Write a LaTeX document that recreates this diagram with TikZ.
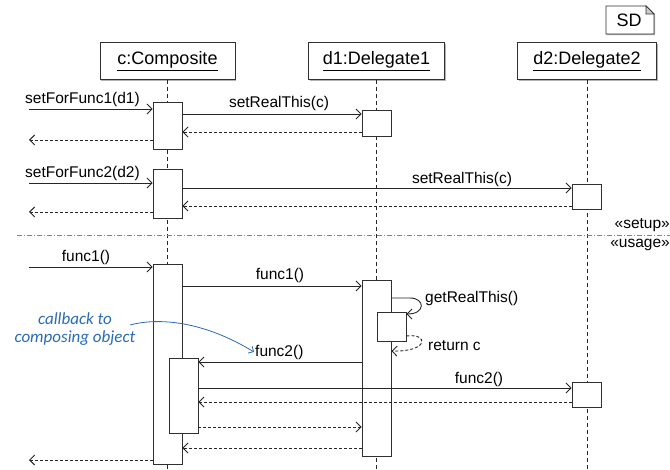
\documentclass[tikz,border=0pt]{standalone}
\usepackage{fontspec}
\setmainfont{Liberation Sans}
\newfontfamily\notefont{Carlito}
\usetikzlibrary{arrows.meta,shadows}
\definecolor{linegray}{HTML}{303030}
\definecolor{noteblue}{HTML}{2A6BB5}
\definecolor{sepblue}{HTML}{4A90D0}
\tikzset{
  head/.style={draw=linegray, fill=white, line width=0.9bp, minimum height=37bp,
    inner sep=0, font=\fontsize{18bp}{20bp}\selectfont,
    drop shadow={shadow xshift=1.2bp, shadow yshift=-1.2bp, fill=black!30, opacity=1}},
  act/.style={draw=linegray, fill=white, line width=0.9bp, minimum width=29bp, inner sep=0},
  lifeline/.style={draw=black!85, line width=0.8bp, dash pattern=on 4bp off 3bp},
  msg/.style={draw=black!85, line width=0.9bp, -{Straight Barb[length=5bp,width=10bp]}},
  ret/.style={msg, dash pattern=on 3bp off 2bp},
  lbl/.style={font=\fontsize{15.5bp}{17bp}\selectfont, inner sep=0},
  sep/.style={draw=sepblue, line width=0.9bp, dash pattern=on 5bp off 2bp on 1bp off 2bp},
  note/.style={font=\notefont\itshape\fontsize{17bp}{18bp}\selectfont, text=noteblue,
    align=center, inner sep=0},
  noteline/.style={draw=noteblue, line width=0.8bp, -{Straight Barb[length=4bp,width=8bp]}},
}
\begin{document}
\begin{tikzpicture}[x=1bp, y=-1bp]
\useasboundingbox (0,0) rectangle (670,470);

% frame tag with folded corner
\fill[black!30] (607.2,35.2) -- (655.2,35.2) -- (655.2,15.2) -- (654,14) -- (654,34) -- (606,34) -- cycle;
\draw[linegray, line width=0.9bp, fill=white] (606,6) -- (646,6) -- (654,14) -- (654,34) -- (606,34) -- cycle;
\draw[linegray, line width=0.7bp, fill=black!20] (646,6) -- (646,14) -- (654,14) -- cycle;
\node[font=\fontsize{18bp}{20bp}\selectfont, inner sep=0] (sd) at (629,20) {SD};

% lifeline heads
\node[head, minimum width=135bp] (c)  at (167.5,61) {\underline{c:Composite}};
\node[head, minimum width=136bp] (d1) at (376.5,61) {\underline{d1:Delegate1}};
\node[head, minimum width=139bp] (d2) at (587,61)   {\underline{d2:Delegate2}};

% lifelines
\coordinate (cEnd)  at (c.south  |- 0,470);
\coordinate (d1End) at (d1.south |- 0,470);
\coordinate (d2End) at (d2.south |- 0,470);
\draw[lifeline] (c.south) -- (cEnd);
\draw[lifeline] (d1.south) -- (d1End);
\draw[lifeline] (d2.south) -- (d2End);

% phase separator
\coordinate (sepL) at (17,235);
\coordinate (sepR) at (670,235);
\draw[sep] (sepL) -- (sepR);
\node[lbl, anchor=base east] (setup) at (670,229) {«setup»};
\node[lbl, anchor=base east] (usage) at (670,248) {«usage»};

% activations
\node[act, minimum height=47bp] (cA1) at (167.5,125.5) {};
\node[act, minimum height=26bp] (dA1) at (376.5,123) {};
\node[act, minimum height=49bp] (cA2) at (167.5,193.5) {};
\node[act, minimum height=25bp] (eA1) at (586.5,196.5) {};
\node[act, minimum height=200bp] (cA3) at (167.5,364) {};
\node[act, minimum height=176bp] (dA2) at (376.5,368) {};
\node[act, minimum height=29bp] (dA3) at (391.5,326.5) {};
\node[act, minimum height=75bp] (cA4) at (183.5,395.5) {};
\node[act, minimum height=25bp] (eA2) at (586.5,394.5) {};

% setup: first delegate
\coordinate (in1) at (29,109);
\coordinate (out1) at (29,140);
\draw[msg] (in1) -- (in1 -| cA1.west);
\node[lbl, anchor=base west] (l1) at (25,104) {setForFunc1(d1)};
\draw[msg] (cA1.east |- 0,114) -- (dA1.west |- 0,114);
\node[lbl, anchor=base] (l2) at (279,108) {setRealThis(c)};
\draw[ret] (dA1.west |- 0,132) -- (cA1.east |- 0,132);
\draw[ret] (cA1.west |- out1) -- (out1);

% setup: second delegate
\coordinate (in2) at (29,183);
\coordinate (out2) at (29,212);
\draw[msg] (in2) -- (in2 -| cA2.west);
\node[lbl, anchor=base west] (l3) at (25,178) {setForFunc2(d2)};
\draw[msg] (cA2.east |- 0,188) -- (eA1.west |- 0,188);
\node[lbl, anchor=base] (l4) at (462,184) {setRealThis(c)};
\draw[ret] (eA1.west |- 0,206) -- (cA2.east |- 0,206);
\draw[ret] (cA2.west |- out2) -- (out2);

% usage
\coordinate (in3) at (29,267);
\coordinate (out3) at (29,460);
\draw[msg] (in3) -- (in3 -| cA3.west);
\node[lbl, anchor=base] (l5) at (86,262) {func1()};
\draw[msg] (cA3.east |- 0,286) -- (dA2.west |- 0,286);
\node[lbl, anchor=base] (l6) at (280,280) {func1()};
\draw[msg] (dA2.east |- 0,298) -- (410,298) .. controls (425,298) and (426,314) .. (dA3.east |- 0,314);
\node[lbl, anchor=base west] (l7) at (425,303) {getRealThis()};
\draw[ret] (dA3.east |- 0,336) .. controls (429,333) and (429,352) .. (dA2.east |- 0,351);
\node[lbl, anchor=base west] (l8) at (428,350) {return c};
\draw[msg] (dA2.west |- 0,362) -- (cA4.east |- 0,362);
\node[lbl, anchor=base west] (l9) at (255,356) {func2()};
\draw[msg] (cA4.east |- 0,388) -- (eA2.west |- 0,388);
\node[lbl, anchor=base] (l10) at (479,383) {func2()};
\draw[ret] (eA2.west |- 0,402) -- (cA4.east |- 0,402);
\draw[ret] (cA4.east |- 0,427) -- (dA2.west |- 0,427);
\draw[ret] (dA2.west |- 0,448) -- (cA3.east |- 0,448);
\draw[ret] (cA3.west |- out3) -- (out3);

% annotation
\node[note] (note) at (75,329) {callback to\\composing object};
\coordinate (noteStart) at (130,325);
\draw[noteline] (noteStart) .. controls (160,317) and (205,322) .. ([xshift=-1bp]l9.west);
\end{tikzpicture}
\end{document}
